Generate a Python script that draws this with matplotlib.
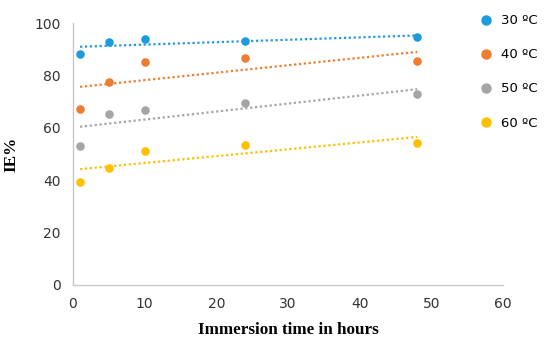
import numpy as np
import matplotlib
matplotlib.use('Agg')
from matplotlib import pyplot as plt
from matplotlib.lines import Line2D

# Immersion times (hours) and inhibition efficiency (%) per temperature
hours = [1, 5, 10, 24, 48]
ie_30 = [88.2, 92.6, 93.8, 93.1, 94.8]
ie_40 = [67.2, 77.5, 85.1, 86.6, 85.5]
ie_50 = [53.1, 65.4, 66.7, 69.4, 72.8]
ie_60 = [39.4, 44.7, 51.1, 53.5, 54.1]
labels = ["30 \u00baC", "40 \u00baC", "50 \u00baC", "60 \u00baC"]
colors = ["#1E9BDB", "#ED7D31", "#A5A5A5", "#FFC000"]

fig = plt.figure(figsize=(5.44, 3.4), dpi=100)
ax = fig.add_axes([0.134, 0.162, 0.791, 0.770])

handles = []
x = np.array(hours)
for ys, lab, col in zip([ie_30, ie_40, ie_50, ie_60], labels, colors):
    ax.scatter(x, ys, s=38, color=col, zorder=3, linewidths=0)
    # linear trendline, as in the original
    k, b = np.polyfit(x, ys, 1)
    ax.plot([x.min(), x.max()], [k * x.min() + b, k * x.max() + b],
            linestyle=(0, (1, 1.2)), color=col, lw=1.6)
    handles.append(Line2D([], [], marker='o', linestyle='', color=col,
                          markersize=6.5, label=lab))

ax.set_xlim(0, 60)
ax.set_ylim(0, 100)
ax.set_xticks(range(0, 61, 10))
ax.set_yticks(range(0, 101, 20))
ax.tick_params(length=0, labelsize=10, colors='#333333', pad=9)
for s in ['top', 'right']:
    ax.spines[s].set_visible(False)
for s in ['left', 'bottom']:
    ax.spines[s].set_color('#C8C8C8')
    ax.spines[s].set_linewidth(1)

ax.set_xlabel("Immersion time in hours", family='Liberation Serif',
              fontweight='bold', fontsize=12.3)
ax.xaxis.set_label_coords(0.5, -0.14)
ax.set_ylabel("IE%", family='Liberation Serif', fontweight='bold',
              fontsize=12.3)
ax.yaxis.set_label_coords(-0.125, 0.5)

fig.legend(handles=handles, loc='upper left', bbox_to_anchor=(0.86, 0.993),
           frameon=False, fontsize=9.5, handletextpad=0.6,
           labelspacing=1.6, handlelength=1.0)

fig.savefig("out.png", dpi=100)
